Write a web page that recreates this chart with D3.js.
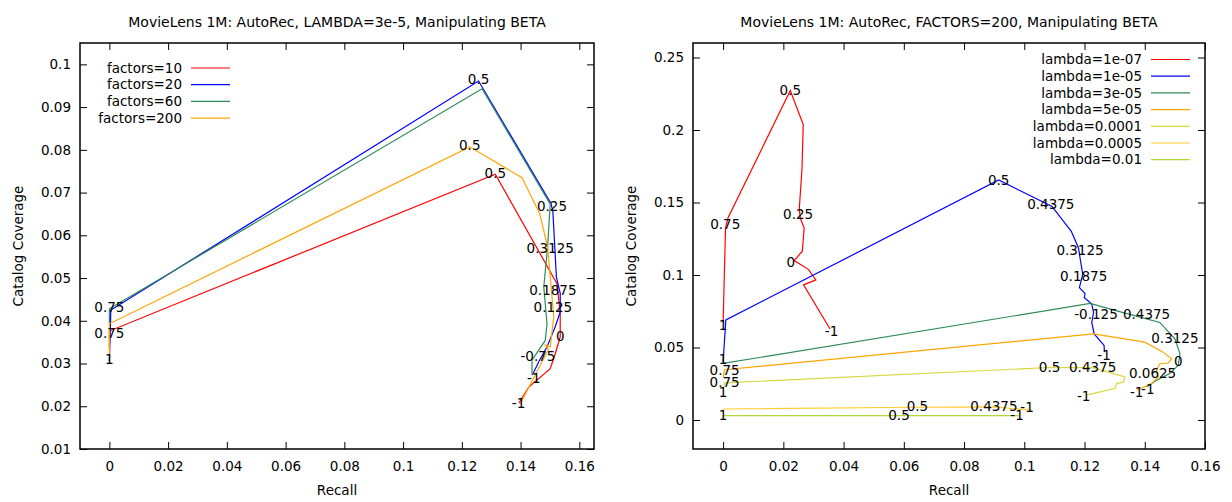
<!DOCTYPE html>
<html>
<head>
<meta charset="utf-8">
<script src="https://cdn.jsdelivr.net/npm/d3@7"></script>
<style>
body { margin: 0; background: #fff; }
svg text { font-family: "DejaVu Sans", Verdana, sans-serif; font-size: 13.5px; fill: #000; }
</style>
</head>
<body>
<svg id="chart" width="1232" height="502"></svg>
<script>
// tick values + labels
var xTicks = [0, 0.02, 0.04, 0.06, 0.08, 0.1, 0.12, 0.14, 0.16];
var xTickLabels = ["0", "0.02", "0.04", "0.06", "0.08", "0.1", "0.12", "0.14", "0.16"];
var leftYTicks = [0.01, 0.02, 0.03, 0.04, 0.05, 0.06, 0.07, 0.08, 0.09, 0.1];
var leftYTickLabels = ["0.01", "0.02", "0.03", "0.04", "0.05", "0.06", "0.07", "0.08", "0.09", "0.1"];
var rightYTicks = [0, 0.05, 0.1, 0.15, 0.2, 0.25];
var rightYTickLabels = ["0", "0.05", "0.1", "0.15", "0.2", "0.25"];

// left panel: LAMBDA=3e-5, one line per factors value, points are [recall, coverage]
var factorNames = ["factors=10", "factors=20", "factors=60", "factors=200"];
var factors10 = [[0, 0.0335], [0, 0.0376], [0.1314, 0.0743], [0.1524, 0.0487], [0.1535, 0.0417],
	[0.1535, 0.0362], [0.1518, 0.0323], [0.1501, 0.0288], [0.1428, 0.0245], [0.1395, 0.0208]];
var factors20 = [[0, 0.0305], [0.0005, 0.0425], [0.1257, 0.0961], [0.1504, 0.0674], [0.151, 0.0655],
	[0.1522, 0.0502], [0.1535, 0.0464], [0.1535, 0.0421], [0.1518, 0.0386], [0.149, 0.0339],
	[0.1462, 0.0304], [0.144, 0.0273]];
var factors60 = [[0, 0.0395], [0, 0.0428], [0.1269, 0.0943], [0.1501, 0.0673], [0.1492, 0.0573],
	[0.1479, 0.0479], [0.149, 0.0393], [0.1484, 0.0354], [0.1439, 0.0308], [0.1439, 0.0273]];
var factors200 = [[0, 0.032], [0, 0.0393], [0.1227, 0.0807], [0.1405, 0.0735], [0.1465, 0.0651],
	[0.1492, 0.0573], [0.1513, 0.0409], [0.1501, 0.0339], [0.1484, 0.0343], [0.1495, 0.0333],
	[0.1399, 0.0206]];
var leftLabels = [[0.1257, 0.0966, "0.5"], [0.1227, 0.0811, "0.5"], [0.1314, 0.0745, "0.5"],
	[0.1507, 0.0668, "0.25"], [0.1501, 0.0569, "0.3125"], [0.151, 0.0471, "0.1875"],
	[0.151, 0.0432, "0.125"], [0.1535, 0.0364, "0"], [0.1459, 0.0316, "-0.75"],
	[0.1445, 0.0265, "-1"], [0.1393, 0.0206, "-1"], [0, 0.0432, "0.75"],
	[0, 0.0371, "0.75"], [0, 0.031, "1"]];

// right panel: FACTORS=200, one line per lambda value
var lambdaNames = ["lambda=1e-07", "lambda=1e-05", "lambda=3e-05", "lambda=5e-05",
	"lambda=0.0001", "lambda=0.0005", "lambda=0.01"];
var lambda1e07 = [[0, 0.067], [0.0008, 0.1324], [0.0016, 0.1393], [0.0223, 0.2272], [0.0266, 0.2037],
	[0.0262, 0.1735], [0.0253, 0.1461], [0.0256, 0.1393], [0.0269, 0.1324], [0.0263, 0.1164],
	[0.0236, 0.11], [0.0283, 0.1039], [0.0308, 0.0966], [0.0267, 0.0932], [0.0355, 0.0628]];
var lambda1e05 = [[0, 0.04], [0.0009, 0.069], [0.0915, 0.1655], [0.1092, 0.1473], [0.1156, 0.1301],
	[0.118, 0.1187], [0.1185, 0.1119], [0.1194, 0.1005], [0.1183, 0.0913], [0.1202, 0.0872],
	[0.1199, 0.0845], [0.1224, 0.0799], [0.123, 0.0742], [0.1224, 0.0673], [0.1232, 0.0594],
	[0.1265, 0.0514], [0.1266, 0.0468]];
var lambda3e05 = [[0, 0.039], [0.1219, 0.0804], [0.1307, 0.0753], [0.145, 0.0673], [0.15, 0.056],
	[0.1517, 0.0457], [0.1511, 0.0377], [0.1483, 0.032], [0.1439, 0.0274], [0.1406, 0.0228]];
var lambda5e05 = [[0, 0.0297], [0.0005, 0.0347], [0.123, 0.0594], [0.14, 0.0537], [0.1461, 0.0468],
	[0.1489, 0.0422], [0.1478, 0.0393], [0.145, 0.0388], [0.1439, 0.0342], [0.1445, 0.0297],
	[0.1423, 0.0251], [0.1373, 0.0205]];
var lambda1e04 = [[0, 0.0215], [0.0005, 0.0256], [0.1084, 0.0362], [0.1227, 0.0361], [0.1334, 0.0297],
	[0.1329, 0.0262], [0.1307, 0.0251], [0.1301, 0.0217], [0.1204, 0.0171]];
var lambda5e04 = [[0, 0.0076], [0.0645, 0.0088], [0.0899, 0.009], [0.1025, 0.0068]];
var lambda1e02 = [[0, 0.003], [0.0584, 0.003], [0.0981, 0.003]];
var rightLabels = [[0.0223, 0.2272, "0.5"], [0.0007, 0.1347, "0.75"], [0.0249, 0.142, "0.25"],
	[0.0225, 0.1091, "0"], [0.036, 0.0612, "-1"], [0, 0.065, "1"],
	[0.0915, 0.1655, "0.5"], [0.1088, 0.1491, "0.4375"], [0.1185, 0.1169, "0.3125"],
	[0.1197, 0.0993, "0.1875"], [0.1238, 0.0731, "-0.125"], [0.1265, 0.0445, "-1"], [0, 0.0422, "1"],
	[0.1406, 0.0731, "0.4375"], [0.15, 0.0566, "0.3125"], [0.1511, 0.0404, "0"],
	[0.1426, 0.0324, "0.0625"], [0.1373, 0.0194, "-1"], [0.141, 0.0212, "-1"],
	[0.0005, 0.0342, "0.75"], [0.0005, 0.0262, "0.75"], [0, 0.0194, "1"],
	[0.1084, 0.0361, "0.5"], [0.1227, 0.0361, "0.4375"], [0.1197, 0.0164, "-1"],
	[0.0645, 0.0096, "0.5"], [0.0899, 0.0096, "0.4375"], [0.1009, 0.0087, "-1"],
	[0, 0.003, "1"], [0.0584, 0.0034, "0.5"], [0.0976, 0.0034, "-1"]];

var factorColors = ["#ff0000", "#0000ff", "#2e8b57", "#ffa500"];
var lambdaColors = ["#ff0000", "#0000ff", "#2e8b57", "#ffa500", "#d8d83c", "#ffcc33", "#b0d838"];

var svg = d3.select("#chart");

function drawPanel(p) {
	var x = d3.scaleLinear().domain(p.xDomain).range([p.left, p.right]);
	var y = d3.scaleLinear().domain(p.yDomain).range([p.bottom, p.top]);
	var g = svg.append("g");

	g.append("text")
		.attr("x", (p.left + p.right) / 2)
		.attr("y", 27)
		.attr("text-anchor", "middle")
		.style("font-size", "14px")
		.text(p.title);

	// ticks point inward on all four sides
	g.append("g").attr("transform", "translate(0," + p.bottom + ")")
		.call(d3.axisBottom(x).tickValues(xTicks).tickFormat(function(d, i){ return xTickLabels[i]; })
			.tickSize(-7).tickPadding(12));
	g.append("g").attr("transform", "translate(0," + p.top + ")")
		.call(d3.axisTop(x).tickValues(xTicks).tickFormat("").tickSize(-7));
	g.append("g").attr("transform", "translate(" + p.left + ",0)")
		.call(d3.axisLeft(y).tickValues(p.yTicks).tickFormat(function(d, i){ return p.yTickLabels[i]; })
			.tickSize(-7).tickPadding(9));
	g.append("g").attr("transform", "translate(" + p.right + ",0)")
		.call(d3.axisRight(y).tickValues(p.yTicks).tickFormat("").tickSize(-7));
	g.selectAll(".domain").remove();
	g.selectAll(".tick line").attr("stroke", "#000");

	var line = d3.line()
		.x(function(d){ return x(d[0]); })
		.y(function(d){ return y(d[1]); });

	p.series.forEach(function(s, i){
		g.append("path")
			.attr("d", line(s))
			.attr("fill", "none")
			.attr("stroke", p.colors[i])
			.attr("stroke-width", 1.2);
	});

	g.selectAll("text.pt")
		.data(p.labels)
		.enter()
		.append("text")
		.attr("class", "pt")
		.attr("x", function(d){ return x(d[0]); })
		.attr("y", function(d){ return y(d[1]); })
		.attr("dy", "0.35em")
		.attr("text-anchor", "middle")
		.text(function(d){ return d[2]; });

	// legend
	p.names.forEach(function(name, i){
		var ly = p.legendY + i * 16.7;
		g.append("text")
			.attr("x", p.legendX)
			.attr("y", ly)
			.attr("dy", "0.35em")
			.attr("text-anchor", "end")
			.text(name);
		g.append("line")
			.attr("x1", p.legendX + 9).attr("x2", p.legendX + 48)
			.attr("y1", ly).attr("y2", ly)
			.attr("stroke", p.colors[i])
			.attr("stroke-width", 1.2);
	});

	g.append("rect")
		.attr("x", p.left).attr("y", p.top)
		.attr("width", p.right - p.left).attr("height", p.bottom - p.top)
		.attr("fill", "none")
		.attr("stroke", "#000")
		.attr("stroke-width", 1.5);

	g.append("text")
		.attr("x", (p.left + p.right) / 2)
		.attr("y", 495)
		.attr("text-anchor", "middle")
		.text("Recall");
	g.append("text")
		.attr("transform", "translate(" + (p.left - 57) + "," + ((p.top + p.bottom) / 2) + ") rotate(-90)")
		.attr("text-anchor", "middle")
		.text("Catalog Coverage");
}

drawPanel({
	title: "MovieLens 1M: AutoRec, LAMBDA=3e-5, Manipulating BETA",
	left: 80, right: 594, top: 43, bottom: 449,
	xDomain: [-0.01, 0.165], yDomain: [0.01, 0.105],
	yTicks: leftYTicks, yTickLabels: leftYTickLabels,
	series: [factors10, factors20, factors60, factors200],
	names: factorNames, colors: factorColors,
	labels: leftLabels,
	legendX: 182, legendY: 68
});

drawPanel({
	title: "MovieLens 1M: AutoRec, FACTORS=200, Manipulating BETA",
	left: 693, right: 1205, top: 43, bottom: 449,
	xDomain: [-0.01, 0.16], yDomain: [-0.02, 0.26],
	yTicks: rightYTicks, yTickLabels: rightYTickLabels,
	series: [lambda1e07, lambda1e05, lambda3e05, lambda5e05, lambda1e04, lambda5e04, lambda1e02],
	names: lambdaNames, colors: lambdaColors,
	labels: rightLabels,
	legendX: 1142, legendY: 59.5
});
</script>
</body>
</html>
